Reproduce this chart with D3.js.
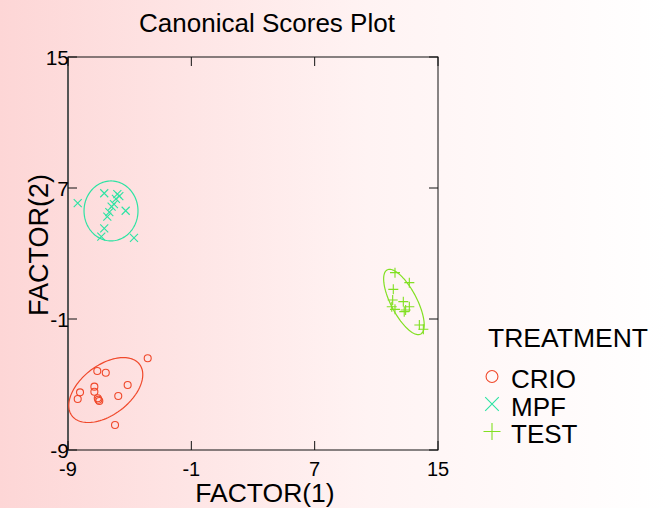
<!DOCTYPE html>
<html>
<head>
<meta charset="utf-8">
<script src="https://cdn.jsdelivr.net/npm/d3@7/dist/d3.min.js"></script>
<style>
  html, body { margin: 0; padding: 0; overflow: hidden; }
  text { font-family: "Liberation Sans", Arial, sans-serif; fill: #000; }
</style>
</head>
<body>
<div id="main"></div>
<script>
const ctx = {
    w: 668,
    h: 508,
    left: 68,
    right: 438,
    top: 57,
    bottom: 450,
    TICK_LEN: 9,
};

// tick values on both axes
const TICKS = [-9, -1, 7, 15];
const DOMAIN = [-9, 15];

const GROUPS = ["CRIO", "MPF", "TEST"];
const COLORS = ["#f0482a", "#2de3a3", "#82e022"];
const SYMBOLS = ["circle", "cross", "plus"];

// canonical scores: [factor1, factor2]
const CRIO_PTS = [[-3.83, -3.40], [-7.10, -4.18], [-6.55, -4.28], [-5.13, -5.03], [-7.29, -5.13],
    [-8.22, -5.48], [-7.29, -5.44], [-8.37, -5.89], [-5.74, -5.70], [-7.07, -5.84],
    [-6.97, -6.01], [-7.03, -5.93], [-5.95, -7.47]];
const MPF_PTS = [[-8.37, 6.07], [-6.65, 6.68], [-5.80, 6.62], [-5.67, 6.51], [-5.89, 6.33],
    [-6.02, 6.02], [-6.17, 5.86], [-5.26, 5.61], [-6.32, 5.52], [-6.45, 5.25],
    [-6.65, 4.54], [-6.84, 4.03], [-4.72, 3.96]];
const TEST_PTS = [[12.21, 1.83], [13.14, 1.22], [12.10, 0.81], [12.06, 0.16], [12.75, 0.06],
    [12.00, -0.25], [12.21, -0.41], [12.90, -0.45], [13.14, -0.25], [12.81, -0.55],
    [13.79, -1.37], [14.05, -1.63]];

// confidence ellipses: [cx, cy, semi-axis a, semi-axis b, angle of a (deg)]
const ELLIPSES = [[-6.55, -5.34, 2.70, 1.55, 34], [-6.21, 5.60, 1.75, 1.83, 0], [12.79, 0.04, 2.24, 0.83, -60.6]];

function drawMarker(g, kind, color, s) {
    if (kind === "circle") {
        g.append("circle").attr("r", 3.5 * s).attr("fill", "none")
            .attr("stroke", color).attr("stroke-width", 1.1);
    } else if (kind === "cross") {
        let k = 4 * s;
        g.append("path").attr("d", `M${-k},${-k}L${k},${k}M${-k},${k}L${k},${-k}`)
            .attr("stroke", color).attr("stroke-width", 1.1).attr("fill", "none");
    } else {
        let k = 5 * s;
        g.append("path").attr("d", `M${-k},0L${k},0M0,${-k}L0,${k}`)
            .attr("stroke", color).attr("stroke-width", 1.1).attr("fill", "none");
    }
}

function createViz() {
    let svgEl = d3.select("#main").append("svg")
        .attr("width", ctx.w).attr("height", ctx.h);

    // background gradient
    let grad = svgEl.append("defs").append("linearGradient")
        .attr("id", "bg").attr("x1", "0").attr("x2", "1").attr("y1", "0").attr("y2", "0");
    grad.append("stop").attr("offset", "0").attr("stop-color", "#fdd6d6");
    grad.append("stop").attr("offset", "0.55").attr("stop-color", "#fff3f3");
    grad.append("stop").attr("offset", "1").attr("stop-color", "#ffffff");
    svgEl.append("rect").attr("width", ctx.w).attr("height", ctx.h).attr("fill", "url(#bg)");

    let x = d3.scaleLinear().domain(DOMAIN).range([ctx.left, ctx.right]);
    let y = d3.scaleLinear().domain(DOMAIN).range([ctx.bottom, ctx.top]);

    // frame with inward ticks on all four sides
    let frame = svgEl.append("g").attr("stroke", "#111").attr("stroke-width", 1).attr("fill", "none");
    frame.append("rect")
        .attr("x", ctx.left).attr("y", ctx.top)
        .attr("width", ctx.right - ctx.left).attr("height", ctx.bottom - ctx.top);
    frame.append("line").attr("x1", ctx.left).attr("x2", ctx.left)
        .attr("y1", ctx.top).attr("y2", ctx.bottom).attr("stroke", "#555").attr("stroke-width", 2);
    TICKS.forEach(function (t) {
        frame.append("line").attr("x1", x(t)).attr("x2", x(t))
            .attr("y1", ctx.bottom).attr("y2", ctx.bottom - ctx.TICK_LEN);
        frame.append("line").attr("x1", x(t)).attr("x2", x(t))
            .attr("y1", ctx.top).attr("y2", ctx.top + ctx.TICK_LEN);
        frame.append("line").attr("y1", y(t)).attr("y2", y(t))
            .attr("x1", ctx.left).attr("x2", ctx.left + ctx.TICK_LEN);
        frame.append("line").attr("y1", y(t)).attr("y2", y(t))
            .attr("x1", ctx.right).attr("x2", ctx.right - ctx.TICK_LEN);
    });

    // tick labels
    svgEl.append("g").selectAll("text").data(TICKS).enter().append("text")
        .attr("x", (d) => x(d)).attr("y", ctx.bottom + 26)
        .attr("text-anchor", "middle").style("font-size", "20px")
        .text((d) => d);
    svgEl.append("g").selectAll("text").data(TICKS).enter().append("text")
        .attr("x", ctx.left + 1).attr("y", (d) => y(d) + 7.5)
        .attr("text-anchor", "end").style("font-size", "21px")
        .text((d) => d);

    // titles
    svgEl.append("text").attr("x", 267).attr("y", 32)
        .attr("text-anchor", "middle").style("font-size", "26px")
        .text("Canonical Scores Plot");
    svgEl.append("text").attr("x", 265).attr("y", 502)
        .attr("text-anchor", "middle").style("font-size", "26.5px")
        .text("FACTOR(1)");
    svgEl.append("text")
        .attr("transform", "translate(48,245) rotate(-90)")
        .attr("text-anchor", "middle").style("font-size", "27px")
        .text("FACTOR(2)");

    // ellipses, traced through the scales
    ELLIPSES.forEach(function (e, i) {
        let th = e[4] * Math.PI / 180;
        let pts = d3.range(0, 361, 3).map(function (deg) {
            let t = deg * Math.PI / 180;
            let u = e[2] * Math.cos(t), v = e[3] * Math.sin(t);
            return [x(e[0] + u * Math.cos(th) - v * Math.sin(th)),
                    y(e[1] + u * Math.sin(th) + v * Math.cos(th))];
        });
        svgEl.append("path").attr("d", d3.line()(pts) + "Z")
            .attr("fill", "none").attr("stroke", COLORS[i]).attr("stroke-width", 1.2);
    });

    // points
    [CRIO_PTS, MPF_PTS, TEST_PTS].forEach(function (pts, i) {
        pts.forEach(function (p) {
            let g = svgEl.append("g").attr("transform", `translate(${x(p[0])},${y(p[1])})`);
            drawMarker(g, SYMBOLS[i], COLORS[i], 1);
        });
    });

    // legend
    let legendG = svgEl.append("g").attr("transform", "translate(488,0)");
    legendG.append("text").attr("x", 0).attr("y", 347)
        .style("font-size", "26.5px").text("TREATMENT");
    GROUPS.forEach(function (name, i) {
        let base = 388 + i * 27.5;
        let g = legendG.append("g").attr("transform", `translate(4,${base - 11.5})`);
        drawMarker(g, SYMBOLS[i], COLORS[i], 1.7);
        legendG.append("text").attr("x", 23).attr("y", base)
            .style("font-size", "26px").text(name);
    });
}

createViz();
</script>
</body>
</html>
